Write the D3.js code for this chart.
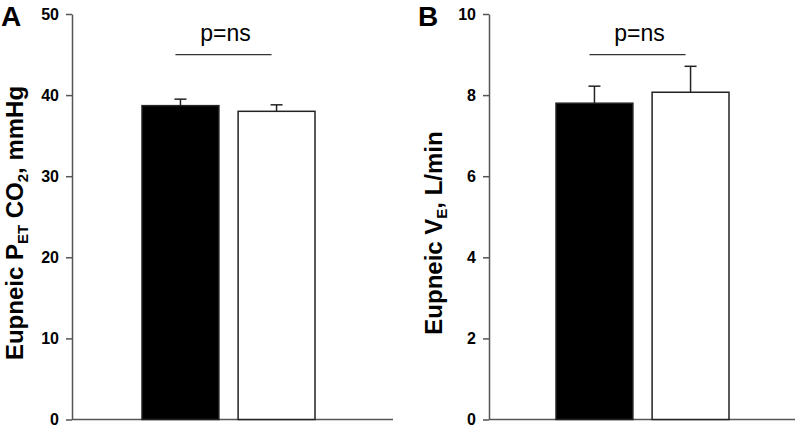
<!DOCTYPE html>
<html>
<head>
<meta charset="utf-8">
<script src="https://cdn.jsdelivr.net/npm/d3@7"></script>
<style>
  body { margin: 0; background: #fff; }
  svg { display: block; }
  text { font-family: "Liberation Sans", Arial, sans-serif; }
</style>
</head>
<body>
<script>
const width = 795;
const height = 433;

// data
const groups = ["group1", "group2"];
const fills = ["#000", "#fff"];

const petco2Means = [38.7, 38.0];
const petco2Errors = [0.8, 0.8];
const petco2Ticks = [0, 10, 20, 30, 40, 50];

const veMeans = [7.8, 8.07];
const veErrors = [0.42, 0.64];
const veTicks = [0, 2, 4, 6, 8, 10];

const sigLabel = "p=ns";

const svg = d3.select("body")
      .append("svg")
      .attr("width", width)
      .attr("height", height);

const panels = [
    {letter: "A", means: petco2Means, errors: petco2Errors, ticks: petco2Ticks,
     max: 50, sig: 45, axisX: 72, axisEnd: 393, barStart: 142,
     letterX: 1, labelX: 23, labelY: 223,
     label: [["Eupneic P", 0], ["ET", 1], [" CO", 0], ["2", 1], [", mmHg", 0]]},
    {letter: "B", means: veMeans, errors: veErrors, ticks: veTicks,
     max: 10, sig: 9, axisX: 489, axisEnd: 795, barStart: 556,
     letterX: 418, labelX: 442, labelY: 233,
     label: [["Eupneic V", 0], ["E", 1], [", L/min", 0]]}
];

panels.forEach(function (p) {

    const y = d3.scaleLinear()
	  .domain([0, p.max])
	  .range([419.5, 14]);

    const x = d3.scaleBand()
	  .domain(groups)
	  .range([p.barStart, p.barStart + 173])
	  .paddingInner(0.2)
	  .paddingOuter(0);

    const g = svg.append("g");

    // y axis
    const yAxis = g.append("g")
	  .attr("transform", `translate(${p.axisX},0)`)
	  .call(d3.axisLeft(y).tickValues(p.ticks).tickSize(6).tickPadding(7).tickSizeOuter(0));
    yAxis.select(".domain").attr("stroke", "#555").attr("stroke-width", 1.5);
    yAxis.selectAll(".tick line").attr("stroke", "#555").attr("stroke-width", 1.5);
    yAxis.selectAll(".tick text")
	.attr("fill", "#000")
	.attr("font-size", 16)
	.attr("font-weight", "bold")
	.style("font-family", "'Liberation Sans', Arial, sans-serif");

    // x axis line
    g.append("line")
	.attr("x1", p.axisX).attr("x2", p.axisEnd)
	.attr("y1", y(0)).attr("y2", y(0))
	.attr("stroke", "#555")
	.attr("stroke-width", 1.5);

    // error bars
    groups.forEach(function (k, i) {
	const cx = x(k) + x.bandwidth() / 2;
	g.append("line")
	    .attr("x1", cx).attr("x2", cx)
	    .attr("y1", y(p.means[i])).attr("y2", y(p.means[i] + p.errors[i]))
	    .attr("stroke", "#222").attr("stroke-width", 1.5);
	g.append("line")
	    .attr("x1", cx - 6).attr("x2", cx + 6)
	    .attr("y1", y(p.means[i] + p.errors[i])).attr("y2", y(p.means[i] + p.errors[i]))
	    .attr("stroke", "#222").attr("stroke-width", 1.5);
    });

    // bars
    g.selectAll("rect.bar")
	.data(groups)
	.enter()
	.append("rect")
	.attr("class", "bar")
	.attr("x", d => x(d))
	.attr("width", x.bandwidth())
	.attr("y", (d, i) => y(p.means[i]))
	.attr("height", (d, i) => y(0) - y(p.means[i]))
	.attr("fill", (d, i) => fills[i])
	.attr("stroke", "#222")
	.attr("stroke-width", 1.5);

    // significance bracket
    const c1 = x(groups[0]) + x.bandwidth() / 2 - 5;
    const c2 = x(groups[1]) + x.bandwidth() / 2 - 5;
    g.append("line")
	.attr("x1", c1).attr("x2", c2)
	.attr("y1", y(p.sig)).attr("y2", y(p.sig))
	.attr("stroke", "#333").attr("stroke-width", 1.2);
    g.append("text")
	.attr("x", (c1 + c2) / 2 + 2)
	.attr("y", 41)
	.attr("text-anchor", "middle")
	.attr("font-size", 23)
	.text(sigLabel);

    // panel letter
    g.append("text")
	.attr("x", p.letterX)
	.attr("y", 26)
	.attr("font-size", 28)
	.attr("font-weight", "bold")
	.text(p.letter);

    // y axis title
    const title = g.append("text")
	  .attr("transform", `translate(${p.labelX},${p.labelY}) rotate(-90)`)
	  .attr("text-anchor", "middle")
	  .attr("font-size", 24)
	  .attr("font-weight", "bold");
    p.label.forEach(function (part) {
	title.append("tspan")
	    .attr("font-size", part[1] ? 15 : 24)
	    .attr("dy", part[1] ? 5 : (title.selectAll("tspan").size() > 1 ? -5 : 0))
	    .text(part[0]);
    });
});
</script>
</body>
</html>
